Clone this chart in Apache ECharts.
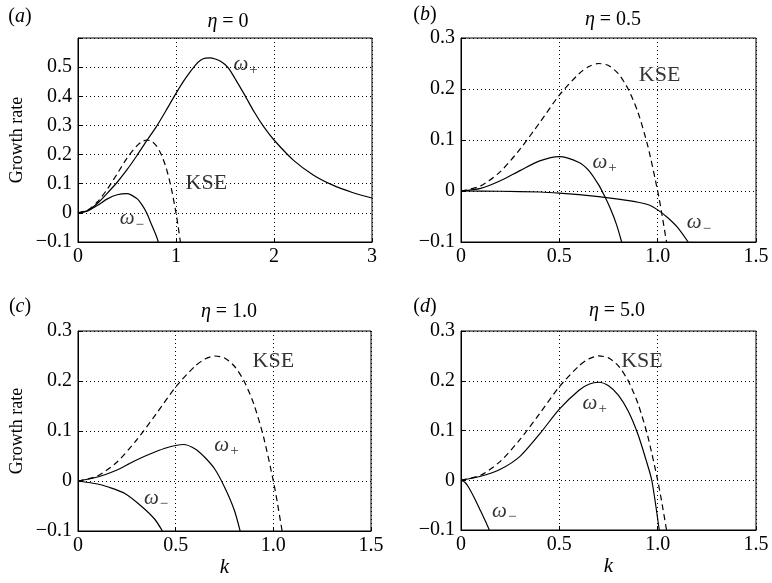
<!DOCTYPE html>
<html>
<head>
<meta charset="utf-8">
<title>Growth rate vs k</title>
<script src="https://cdn.jsdelivr.net/npm/echarts@6/dist/echarts.min.js"></script>
<style>
  html, body { margin: 0; padding: 0; background: #fff; }
  #chart { width: 772px; height: 583px; }
</style>
</head>
<body>
<div id="chart"></div>
<script>
// KSE reference curve (dashed), the same in every panel: [k, growth rate]
const kse = [[0, 0], [0.1, 0.01], [0.2, 0.038], [0.3, 0.082], [0.4, 0.134], [0.5, 0.188],
  [0.6, 0.23], [0.65, 0.244], [0.7, 0.25], [0.75, 0.246], [0.8, 0.23], [0.85, 0.2],
  [0.9, 0.154], [0.95, 0.088], [1.0, 0], [1.02, -0.042], [1.045, -0.1]];

// (a) eta = 0
const plusA = [[0, 0], [0.1, 0.008], [0.2, 0.033], [0.3, 0.068], [0.4, 0.105], [0.5, 0.148],
  [0.6, 0.196], [0.7, 0.247], [0.8, 0.296], [0.9, 0.352], [1.0, 0.41], [1.1, 0.463],
  [1.2, 0.508], [1.25, 0.524], [1.3, 0.531], [1.35, 0.532], [1.4, 0.528], [1.45, 0.521],
  [1.5, 0.509], [1.55, 0.49], [1.6, 0.462], [1.7, 0.405], [1.8, 0.345], [1.9, 0.293],
  [2.0, 0.25], [2.2, 0.18], [2.4, 0.13], [2.6, 0.095], [2.8, 0.07], [3.0, 0.051]];
const minusA = [[0, 0], [0.1, 0.007], [0.2, 0.026], [0.3, 0.048], [0.4, 0.062], [0.5, 0.066],
  [0.6, 0.049], [0.65, 0.029], [0.7, 0.0], [0.75, -0.04], [0.8, -0.08], [0.82, -0.1]];

// (b) eta = 0.5
const plusB = [[0, 0], [0.1, 0.005], [0.2, 0.02], [0.3, 0.04], [0.4, 0.059], [0.5, 0.0675],
  [0.6, 0.056], [0.65, 0.04], [0.7, 0.012], [0.73, -0.01], [0.76, -0.035], [0.79, -0.065],
  [0.817, -0.1]];
const minusB = [[0, 0], [0.2, -0.0005], [0.4, -0.002], [0.5, -0.004], [0.6, -0.007],
  [0.7, -0.011], [0.8, -0.016], [0.9, -0.022], [0.96, -0.028], [1.0, -0.037],
  [1.05, -0.052], [1.1, -0.071], [1.155, -0.1]];

// (c) eta = 1.0
const plusC = [[0, 0], [0.1, 0.008], [0.2, 0.022], [0.25, 0.032], [0.3, 0.042], [0.35, 0.051],
  [0.4, 0.059], [0.45, 0.066], [0.5, 0.071], [0.54, 0.073], [0.6, 0.064], [0.65, 0.047],
  [0.7, 0.024], [0.75, -0.012], [0.8, -0.058], [0.83, -0.1]];
const minusC = [[0, 0], [0.1, -0.006], [0.155, -0.012], [0.24, -0.025], [0.326, -0.051],
  [0.394, -0.077], [0.432, -0.1]];

// (d) eta = 5.0
const plusD = [[0, 0], [0.1, 0.008], [0.2, 0.022], [0.3, 0.048], [0.4, 0.093], [0.5, 0.143],
  [0.6, 0.181], [0.65, 0.193], [0.7, 0.197], [0.75, 0.19], [0.8, 0.171], [0.85, 0.139],
  [0.9, 0.092], [0.94, 0.042], [0.97, 0], [1.008, -0.1]];
const minusD = [[0, 0], [0.02, -0.004], [0.04, -0.015], [0.07, -0.037], [0.1, -0.062],
  [0.125, -0.083], [0.144, -0.1]];

// curve labels: [k, rate, text]
const notesA = [[1.31, 0.1, 'KSE'], [1.71, 0.51, 'ω+'], [0.55, -0.02, 'ω−']];
const notesB = [[1.01, 0.228, 'KSE'], [0.73, 0.056, 'ω+'], [1.21, -0.062, 'ω−']];
const notesC = [[1.0, 0.239, 'KSE'], [0.76, 0.072, 'ω+'], [0.4, -0.035, 'ω−']];
const notesD = [[0.92, 0.24, 'KSE'], [0.68, 0.155, 'ω+'], [0.22, -0.062, 'ω−']];

const titles = ['0', '0.5', '1.0', '5.0'];
const letters = ['a', 'b', 'c', 'd'];

const serif = 'Liberation Serif';

const chart = echarts.init(document.getElementById('chart'));

const grids = [
  { left: 78, top: 38, width: 294, height: 204 },
  { left: 461, top: 38, width: 295, height: 204 },
  { left: 78, top: 331, width: 293, height: 200 },
  { left: 461, top: 331, width: 295, height: 199 }
];

function fmtNum(v) {
  if (Math.abs(v) < 1e-9) return '0';
  const s = Math.abs(v).toFixed(1);
  return (v < 0 ? '\u2212' : '') + s;
}

function makeX(i) {
  const wide = i === 0;
  return {
    type: 'value', gridIndex: i, min: 0, max: wide ? 3 : 1.5, interval: wide ? 1 : 0.5,
    axisLine: { onZero: false, lineStyle: { color: '#000', width: 1 } },
    axisTick: { inside: true, length: 4, lineStyle: { color: '#000' } },
    axisLabel: {
      color: '#000', fontFamily: serif, fontSize: 20, margin: 5,
      formatter: v => wide ? String(Math.round(v)) : fmtNum(v)
    },
    splitLine: { show: true, lineStyle: { color: '#000', type: [1, 3], width: 1 } },
    name: i >= 2 ? 'k' : '',
    nameLocation: 'middle', nameGap: 24,
    nameTextStyle: { color: '#000', fontFamily: serif, fontSize: 21, fontStyle: 'italic' }
  };
}

function makeY(i) {
  const big = i === 0;
  return {
    type: 'value', gridIndex: i, min: -0.1, max: big ? 0.6 : 0.3, interval: 0.1,
    axisLine: { onZero: false, lineStyle: { color: '#000', width: 1 } },
    axisTick: { inside: true, length: 4, lineStyle: { color: '#000' } },
    axisLabel: {
      color: '#000', fontFamily: serif, fontSize: 20, margin: 6,
      formatter: v => (big && v > 0.55) ? '' : fmtNum(v)
    },
    splitLine: { show: true, lineStyle: { color: '#000', type: [1, 3], width: 1 } },
    name: (i === 0 || i === 2) ? 'Growth rate' : '',
    nameLocation: 'middle', nameGap: 52,
    nameTextStyle: { color: '#000', fontFamily: serif, fontSize: 18 }
  };
}

function lineSeries(i, data, dashed) {
  return {
    type: 'line', xAxisIndex: i, yAxisIndex: i, data: data,
    showSymbol: false, smooth: 0.25, clip: true,
    lineStyle: { color: '#000', width: 1.2, type: dashed ? [6, 4] : 'solid' },
    silent: true
  };
}

function noteSeries(i, data) {
  return {
    type: 'scatter', xAxisIndex: i, yAxisIndex: i, data: data,
    symbolSize: 0, silent: true,
    label: {
      show: true, position: 'inside', color: '#000', fontFamily: serif, fontSize: 22,
      formatter: p => {
        const t = p.data[2];
        if (t.charAt(0) === 'ω') return '{w|ω}{s|' + t.slice(1) + '}';
        return t;
      },
      rich: {
        w: { fontFamily: serif, fontSize: 21, fontStyle: 'italic', color: '#000' },
        s: { fontFamily: serif, fontSize: 15, color: '#000', padding: [12, 0, 0, 1] }
      }
    }
  };
}

const plus = [plusA, plusB, plusC, plusD];
const minus = [minusA, minusB, minusC, minusD];
const notes = [notesA, notesB, notesC, notesD];

const series = [];
for (let i = 0; i < 4; i++) {
  series.push(lineSeries(i, kse, true));
  series.push(lineSeries(i, plus[i], false));
  series.push(lineSeries(i, minus[i], false));
  series.push(noteSeries(i, notes[i]));
}

// panel titles and letters
const titlePos = [[228, 22], [613, 20], [229, 312], [617, 311]];
const letterPos = [[20, 17], [425, 15], [20, 307], [425, 307]];
const graphic = [];
for (let i = 0; i < 4; i++) {
  graphic.push({
    type: 'text', x: titlePos[i][0], y: titlePos[i][1], silent: true,
    style: {
      text: '{i|η} = ' + titles[i], fill: '#000', font: '20px "Liberation Serif"',
      align: 'center', verticalAlign: 'middle',
      rich: { i: { fontFamily: serif, fontSize: 20, fontStyle: 'italic', fill: '#000' } }
    }
  });
  graphic.push({
    type: 'text', x: letterPos[i][0], y: letterPos[i][1], silent: true,
    style: {
      text: '({i|' + letters[i] + '})', fill: '#000', font: '20px "Liberation Serif"',
      align: 'center', verticalAlign: 'middle',
      rich: { i: { fontFamily: serif, fontSize: 20, fontStyle: 'italic', fill: '#000' } }
    }
  });
}

const option = {
  animation: false,
  backgroundColor: '#fff',
  grid: grids.map(g => Object.assign({ show: true, borderColor: '#000', borderWidth: 1, containLabel: false }, g)),
  xAxis: [0, 1, 2, 3].map(makeX),
  yAxis: [0, 1, 2, 3].map(makeY),
  series: series,
  graphic: graphic
};

chart.setOption(option);
</script>
</body>
</html>
